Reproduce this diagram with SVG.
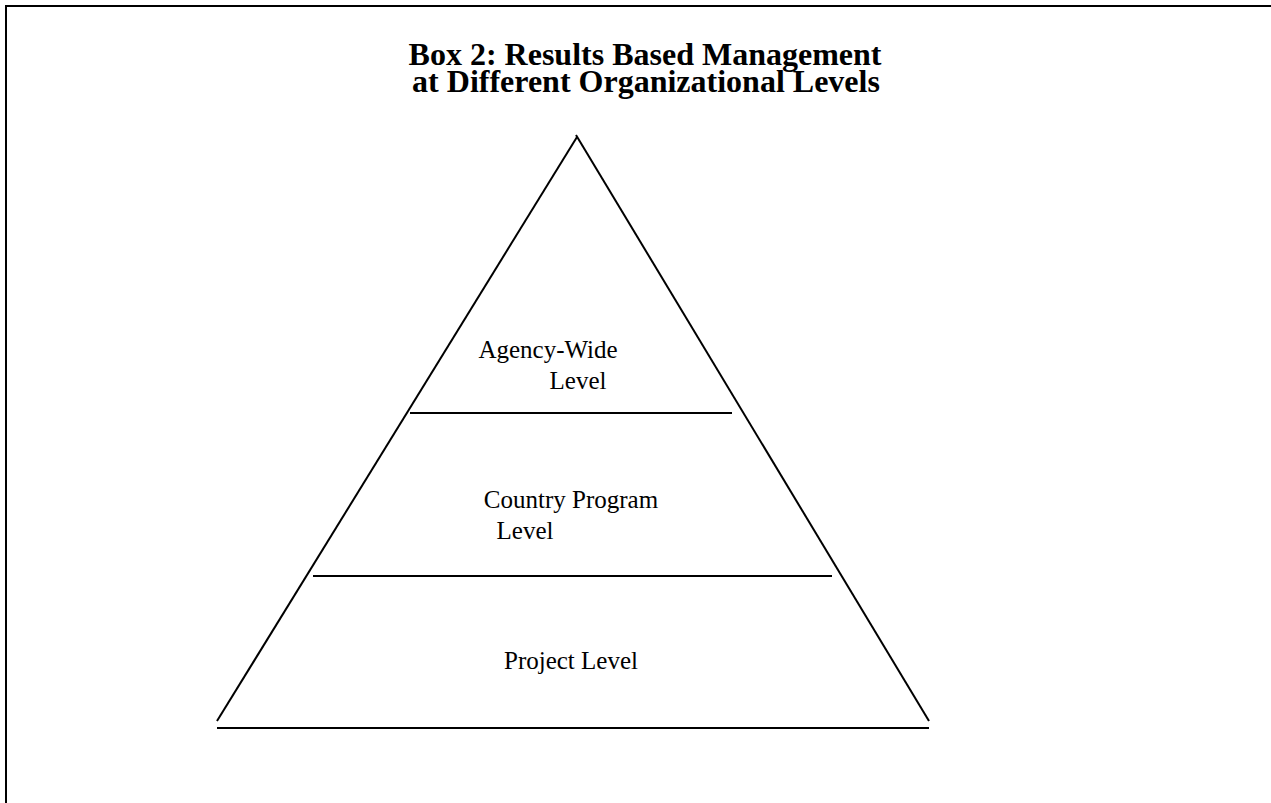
<svg xmlns="http://www.w3.org/2000/svg" width="1271" height="803" viewBox="0 0 1271 803">
<style>
.t{font-family:"Liberation Serif","Times New Roman",serif;fill:#000}
.h{font-size:32px;font-weight:bold;text-anchor:middle}
.l{font-size:25px;text-anchor:middle}
.ln{stroke:#000;stroke-width:2;fill:none}
</style>
<rect width="1271" height="803" fill="#fff"/>
<g id="border"><path class="ln" d="M6,803 V6 H1271" stroke-width="2.5"/></g>
<g id="title"><text class="t h" x="645" y="65">Box 2: Results Based Management</text><text class="t h" x="646" y="92">at Different Organizational Levels</text></g>
<g id="connectors">
<line class="ln" x1="577" y1="137" x2="217" y2="721"/>
<line class="ln" x1="576" y1="135" x2="929" y2="721"/>
<line class="ln" x1="217" y1="728" x2="929" y2="728"/>
<line class="ln" x1="410" y1="413" x2="732" y2="413"/>
<line class="ln" x1="313" y1="576" x2="832" y2="576"/>
</g>
<g id="agency"><text class="t l" x="548" y="358">Agency-Wide</text><text class="t l" x="578" y="389">Level</text></g>
<g id="country"><text class="t l" x="571" y="508">Country Program</text><text class="t l" x="525" y="539">Level</text></g>
<g id="project"><text class="t l" x="571" y="669">Project Level</text></g>
</svg>
